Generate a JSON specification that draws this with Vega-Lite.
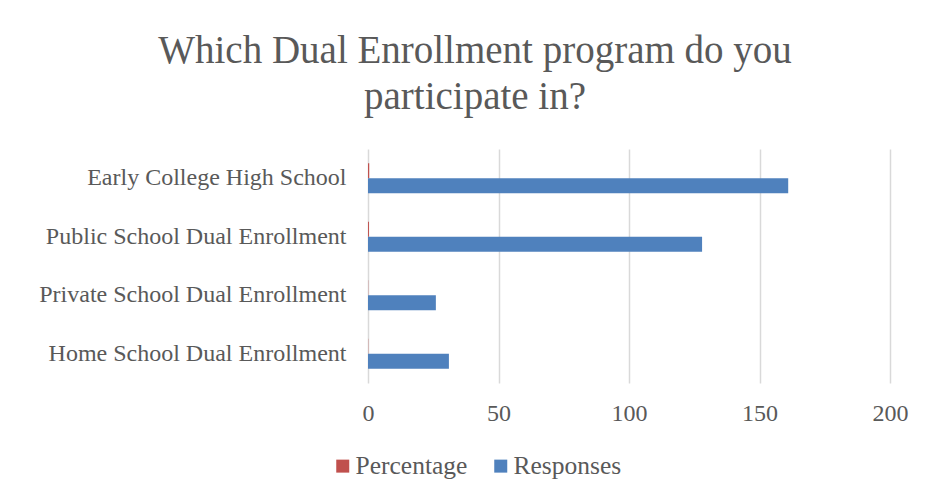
{
  "$schema": "https://vega.github.io/schema/vega-lite/v6.json",
  "width": 522,
  "height": 234,
  "autosize": {"type": "none"},
  "padding": {"left": 368, "top": 149, "right": 40, "bottom": 117},
  "background": "white",
  "title": {
    "text": ["Which Dual Enrollment program do you", "participate in?"],
    "font": "Liberation Serif",
    "fontSize": 39,
    "fontWeight": "normal",
    "color": "#595959",
    "anchor": "middle",
    "dx": -154,
    "lineHeight": 46,
    "offset": 32
  },
  "data": {
    "values": [
      {"program": "Early College High School", "series": "Percentage", "value": 0.465},
      {"program": "Early College High School", "series": "Responses", "value": 161},
      {"program": "Public School Dual Enrollment", "series": "Percentage", "value": 0.37},
      {"program": "Public School Dual Enrollment", "series": "Responses", "value": 128},
      {"program": "Private School Dual Enrollment", "series": "Percentage", "value": 0.075},
      {"program": "Private School Dual Enrollment", "series": "Responses", "value": 26},
      {"program": "Home School Dual Enrollment", "series": "Percentage", "value": 0.09},
      {"program": "Home School Dual Enrollment", "series": "Responses", "value": 31}
    ]
  },
  "mark": {"type": "bar"},
  "encoding": {
    "y": {
      "field": "program",
      "type": "nominal",
      "sort": null,
      "scale": {"paddingInner": 0.49, "paddingOuter": 0.245},
      "axis": {
        "title": null,
        "domain": false,
        "ticks": false,
        "labelFont": "Liberation Serif",
        "labelFontSize": 24,
        "labelColor": "#595959",
        "labelPadding": 22,
        "labelLimit": 400
      }
    },
    "yOffset": {
      "field": "series",
      "type": "nominal",
      "sort": ["Percentage", "Responses"],
      "scale": {"paddingInner": 0, "paddingOuter": 0}
    },
    "x": {
      "field": "value",
      "type": "quantitative",
      "scale": {"domain": [0, 200]},
      "axis": {
        "title": null,
        "values": [0, 50, 100, 150, 200],
        "domain": false,
        "ticks": false,
        "grid": true,
        "gridColor": "#d9d9d9",
        "gridWidth": 1.5,
        "labelFlush": false,
        "labelFont": "Liberation Serif",
        "labelFontSize": 24,
        "labelColor": "#595959",
        "labelPadding": 18
      }
    },
    "color": {
      "field": "series",
      "type": "nominal",
      "scale": {"domain": ["Percentage", "Responses"], "range": ["#C0504D", "#4F81BD"]},
      "legend": {
        "title": null,
        "orient": "none",
        "legendX": -38,
        "legendY": 304,
        "direction": "horizontal",
        "symbolType": "square",
        "symbolSize": 169,
        "symbolStrokeWidth": 0,
        "labelFont": "Liberation Serif",
        "labelFontSize": 25.5,
        "labelColor": "#595959",
        "labelOffset": 0,
        "columnPadding": 20
      }
    }
  },
  "config": {
    "view": {"stroke": null}
  }
}
